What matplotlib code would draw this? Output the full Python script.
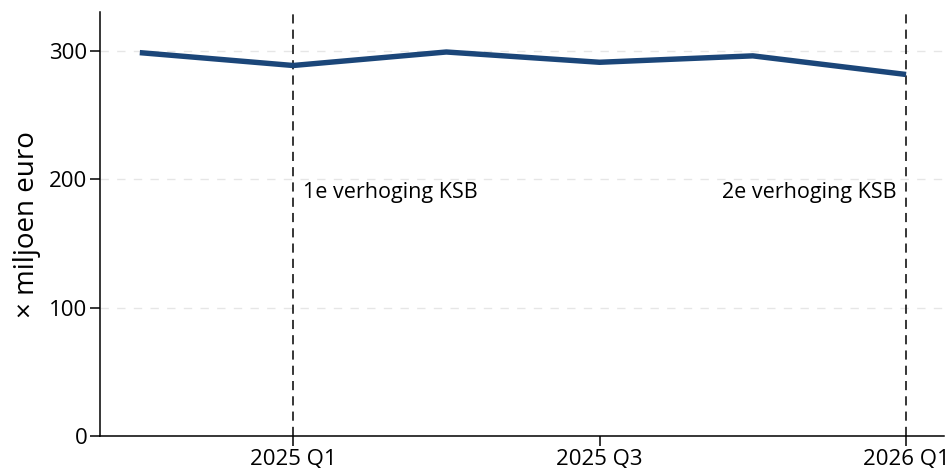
import matplotlib.pyplot as plt

quarters = ["2024 Q4", "2025 Q1", "2025 Q2", "2025 Q3", "2025 Q4", "2026 Q1"]
values = [298.5, 288.5, 299, 291, 296, 281.5]
tick_labels = ["2025 Q1", "2025 Q3", "2026 Q1"]
events = [("2025 Q1", "1e verhoging KSB"), ("2026 Q1", "2e verhoging KSB")]

plt.rcParams['font.family'] = ['Open Sans', 'DejaVu Sans']

fig = plt.figure(figsize=(9.52, 4.68), dpi=100)
ax = fig.add_axes([0.105, 0.068, 0.887, 0.906])

x = list(range(len(quarters)))
ax.plot(x, values, color='#1b4679', linewidth=3.9, solid_capstyle='butt', zorder=3)

for q, label in events:
    i = quarters.index(q)
    ax.axvline(i, color='black', linestyle=(0, (6, 4)), linewidth=1.1, zorder=2)
    if i == len(quarters) - 1:
        ax.text(i - 0.065, 190, label, ha='right', va='center', fontsize=15.5)
    else:
        ax.text(i + 0.065, 190, label, ha='left', va='center', fontsize=15.5)

ax.set_xlim(-0.26, 5.25)
ax.set_ylim(0, 330)
ax.set_yticks([0, 100, 200, 300])
ax.set_xticks([quarters.index(t) for t in tick_labels])
ax.set_xticklabels(tick_labels)
ax.yaxis.grid(True, color='#e6e6e6', linestyle=(0, (6, 6)), linewidth=1)
ax.set_axisbelow(True)

for s in ['top', 'right']:
    ax.spines[s].set_visible(False)
ax.spines['left'].set_linewidth(1.1)
ax.spines['bottom'].set_linewidth(1.1)
ax.tick_params(labelsize=16, length=7, width=1.1, pad=2)
ax.set_ylabel("× miljoen euro", fontsize=20, labelpad=6)

fig.savefig("out.png", dpi=100)
